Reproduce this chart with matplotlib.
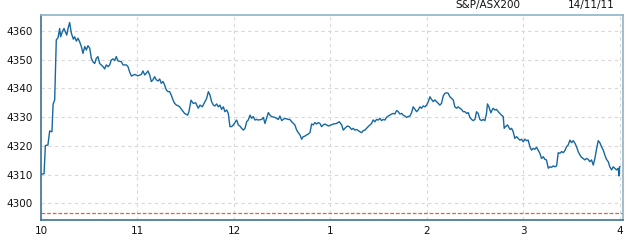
import matplotlib
matplotlib.use('Agg')
import matplotlib.pyplot as plt

# Minutos desde as 10:00 e cotacao do indice
minutos = [0.2, 1.9, 2.7, 4.3, 5.4, 6.8, 7.5, 8.5, 9.5, 10.6, 11.6, 12.2, 13.3, 14.3, 15.1, 16.0, 16.8, 17.8,
           18.9, 20.1, 20.9, 22.0, 23.0, 24.0, 25.1, 26.1, 27.2, 28.2, 29.2, 30.3, 31.3, 32.3, 33.4, 34.4, 35.4,
           36.5, 37.5, 38.6, 39.6, 40.6, 41.7, 42.7, 43.7, 44.8, 45.8, 46.8, 47.9, 50.0, 51.0, 53.1, 54.1, 55.1,
           56.2, 58.2, 60.3, 62.4, 63.4, 64.5, 65.5, 66.5, 67.6, 68.6, 69.6, 70.7, 71.7, 72.8, 73.8, 74.8, 75.9,
           76.9, 77.9, 79.0, 80.0, 81.0, 82.1, 83.1, 84.2, 85.2, 86.2, 87.3, 89.3,
           91.2, 92.0, 93.3, 94.7, 96.2, 97.8, 98.9, 100.3, 102.0, 103.0, 104.1, 105.1, 106.1, 107.2, 108.2,
           109.2, 110.3, 111.3, 112.3, 113.4, 114.4, 115.5, 116.5, 117.5, 118.6, 119.6, 120.6, 121.7, 122.7,
           123.7, 124.8, 125.8, 126.9, 127.9, 128.9, 130.0, 131.0, 132.0, 133.1, 134.1, 135.1, 137.2, 138.3,
           139.3, 140.3, 141.4, 142.4, 143.4, 145.5, 147.6, 148.6, 149.7, 150.7, 151.7, 153.8, 154.8, 155.9,
           157.9, 159.0, 160.0, 161.1, 162.1, 163.1, 164.2, 165.2, 166.2, 167.3, 168.3, 169.3, 170.4, 171.4,
           172.5, 173.5, 174.5, 175.6, 176.6, 177.6, 178.7,
           181.8, 183.8, 185.5, 187.0, 188.0, 189.0, 190.5, 191.7, 193.2, 194.2, 195.2, 196.3, 197.3, 198.4,
           199.4, 200.4, 201.5, 202.5, 203.5, 204.6, 205.6, 206.6, 207.7, 208.7, 209.8, 210.8, 211.8, 212.9,
           213.9, 214.9, 216.0, 217.0, 218.1, 219.1, 220.1, 221.2, 222.2, 223.2, 224.3, 225.3, 226.3, 227.4,
           228.4, 229.5, 230.5, 231.5, 232.6, 233.6, 234.6, 235.7, 236.7, 237.7, 238.8, 239.8, 240.9, 241.9,
           242.9, 244.0, 245.0, 246.0, 247.1, 248.1, 249.1, 250.2, 251.2, 252.3, 253.3, 254.3, 255.4, 256.4,
           257.4, 258.5, 259.5, 260.5, 261.6, 262.6, 263.7, 264.7, 265.7, 266.8, 267.8, 268.8, 269.9,
           270.9, 271.9, 273.0, 274.0, 275.0, 276.1, 277.1, 277.7, 278.6, 279.8, 280.6, 281.3, 282.3, 283.3,
           284.4, 285.4, 286.4, 287.5, 288.1, 288.9, 290.2, 291.0, 291.8, 292.7, 293.7, 294.7, 295.8, 296.8,
           297.8, 298.9, 299.9, 301.0, 302.0, 303.0, 304.1, 305.1, 306.1, 307.2, 308.2, 309.2, 310.3, 311.3,
           312.4, 313.4, 314.4, 315.5, 316.5, 317.5, 318.6, 319.6, 320.7, 321.7, 322.7, 323.8, 324.8, 325.8,
           326.9, 327.9, 329.0, 330.0, 331.0, 332.1, 333.1, 334.1, 335.2, 336.2, 337.2, 338.3, 339.3, 340.3,
           341.4, 342.4, 343.5, 344.5, 345.5, 346.6, 347.6, 348.6, 349.7, 350.7, 351.7, 352.8, 353.8, 354.9,
           355.9, 356.9, 358.0, 359.0, 359.5, 359.9]
cotacao = [4310.1, 4310.3, 4320.1, 4320.3, 4325.2, 4324.9, 4334.5, 4336.0, 4356.9, 4357.7, 4360.9, 4358.0, 4359.8,
           4360.9, 4359.8, 4358.6, 4360.9, 4363.0, 4359.2, 4357.2, 4358.0, 4356.5, 4357.5, 4356.3, 4354.6, 4352.2,
           4354.6, 4353.4, 4354.9, 4354.0, 4350.5, 4349.3, 4348.7, 4350.5, 4351.1, 4348.7, 4348.2, 4347.6, 4346.8,
           4348.2, 4347.6, 4348.2, 4349.9, 4350.3, 4349.7, 4351.1, 4349.6, 4349.3, 4348.2, 4348.2, 4347.6, 4345.8,
           4344.3, 4344.9, 4344.4, 4344.9, 4346.1, 4344.7, 4345.3, 4346.1, 4344.7, 4342.4, 4343.0, 4344.1, 4343.0,
           4342.6, 4343.3, 4341.8, 4342.4, 4341.2, 4339.5, 4338.9, 4338.9, 4337.7, 4336.0, 4334.8, 4334.2, 4334.0,
           4333.6, 4332.8, 4331.3,
           4330.7, 4331.9, 4335.9, 4334.8, 4335.0, 4333.1, 4334.2, 4333.6, 4335.4, 4336.5, 4338.9, 4337.7, 4335.4,
           4334.2, 4333.9, 4334.6, 4333.6, 4334.2, 4332.7, 4333.6, 4331.9, 4332.5, 4331.3, 4326.7, 4326.7, 4327.3,
           4328.1, 4329.0, 4327.3, 4326.9, 4326.1, 4325.5, 4326.1, 4328.4, 4329.0, 4330.7, 4329.6, 4330.2, 4329.0,
           4329.2, 4329.0, 4329.2, 4329.9, 4327.8, 4329.6, 4331.6, 4330.7, 4330.2, 4329.9, 4329.2, 4330.4, 4328.8,
           4329.2, 4329.6, 4329.2, 4329.2, 4328.4, 4327.3, 4325.5, 4324.6, 4323.8, 4322.3, 4323.2, 4323.4, 4323.8,
           4324.1, 4324.6, 4327.6, 4327.3, 4328.1, 4327.6, 4328.1, 4327.8, 4326.7, 4327.3, 4327.6, 4327.3, 4326.9,
           4327.6, 4327.8, 4328.4, 4327.3, 4325.5, 4326.1, 4326.9, 4326.7, 4325.7, 4326.1, 4325.5, 4325.7, 4325.3,
           4324.9, 4324.6, 4325.3, 4325.5, 4326.1, 4326.7, 4327.3, 4327.8, 4329.0, 4328.4, 4329.2, 4329.0, 4329.6,
           4328.8, 4329.2, 4329.0, 4329.9, 4330.4, 4330.7, 4331.1, 4331.3, 4331.1, 4332.3, 4331.9, 4331.1, 4331.3,
           4330.7, 4330.4, 4329.9, 4330.2, 4330.4, 4331.6, 4333.6, 4332.7, 4331.9, 4332.5, 4333.6, 4333.1, 4333.9,
           4333.6, 4334.2, 4335.4, 4337.1, 4336.2, 4335.4, 4336.0, 4335.4, 4334.8, 4334.2, 4334.8, 4337.4, 4338.3,
           4338.5, 4338.3, 4337.1, 4336.5, 4336.0, 4333.6, 4333.1, 4333.6, 4333.1, 4332.7, 4331.9, 4331.9, 4331.3,
           4331.6, 4329.9, 4329.2, 4328.8, 4329.2,
           4331.9, 4331.3, 4329.2, 4328.8, 4329.2, 4328.8, 4331.3, 4334.6, 4333.6, 4331.5, 4332.5, 4333.1, 4332.5,
           4332.7, 4331.9, 4331.3, 4330.7, 4330.2, 4326.1, 4326.7, 4327.3, 4326.4, 4325.7, 4326.1, 4324.9, 4322.6,
           4323.2, 4322.6, 4322.0, 4322.3, 4321.4, 4322.3, 4321.8, 4322.0, 4319.7, 4318.5, 4319.1, 4318.8, 4319.5,
           4318.5, 4317.4, 4315.6, 4316.2, 4315.3, 4315.1, 4312.2, 4312.7, 4312.5, 4313.0, 4312.7, 4313.0, 4317.6,
           4317.4, 4318.0, 4317.6, 4318.3, 4319.7, 4320.3, 4322.0, 4321.1, 4321.8, 4320.9, 4319.7, 4318.0, 4316.8,
           4316.0, 4315.6, 4315.1, 4315.6, 4315.3, 4314.5, 4315.1, 4313.3, 4315.6, 4318.8, 4321.8, 4321.1, 4319.7,
           4318.5, 4316.8, 4315.3, 4314.5, 4312.7, 4311.6, 4312.7, 4312.2, 4311.6, 4312.2, 4309.5, 4312.7]
fechamento_anterior = 4296.5

ticks_horas = [0, 60, 120, 180, 240, 300, 360]
rotulos_horas = ['10', '11', '12', '1', '2', '3', '4']
ticks_valores = [4300, 4310, 4320, 4330, 4340, 4350, 4360]

fig = plt.figure(figsize=(6.3, 2.4), dpi=100)
ax = fig.add_axes([0.0651, 0.0833, 0.9238, 0.8542])

ax.plot(minutos, cotacao, color='#17689f', linewidth=1.0)
ax.axhline(fechamento_anterior, color='#e0662a', linewidth=0.9, linestyle=(0, (3, 1.5)))

ax.set_xlim(0, 362)
ax.set_ylim(4294.15, 4365.6)
ax.set_xticks(ticks_horas)
ax.set_xticklabels(rotulos_horas)
ax.set_yticks(ticks_valores)
ax.tick_params(axis='both', length=0, labelsize=7.5, colors='#111111')
ax.tick_params(axis='y', pad=6)
ax.tick_params(axis='x', pad=4)

ax.grid(True, color='#d8d8d8', linestyle=(0, (3, 3)), linewidth=0.8)

ax.spines['left'].set_color('#3c7391')
ax.spines['bottom'].set_color('#3c7391')
ax.spines['top'].set_color('#8db3c6')
ax.spines['right'].set_color('#8db3c6')
for s in ax.spines.values():
    s.set_linewidth(1.2)

fig.text(0.774, 0.978, 'S&P/ASX200', fontsize=7.5, ha='center', va='center', color='#111111')
fig.text(0.975, 0.978, '14/11/11', fontsize=7.5, ha='right', va='center', color='#111111')

fig.savefig('out.png', dpi=100)
